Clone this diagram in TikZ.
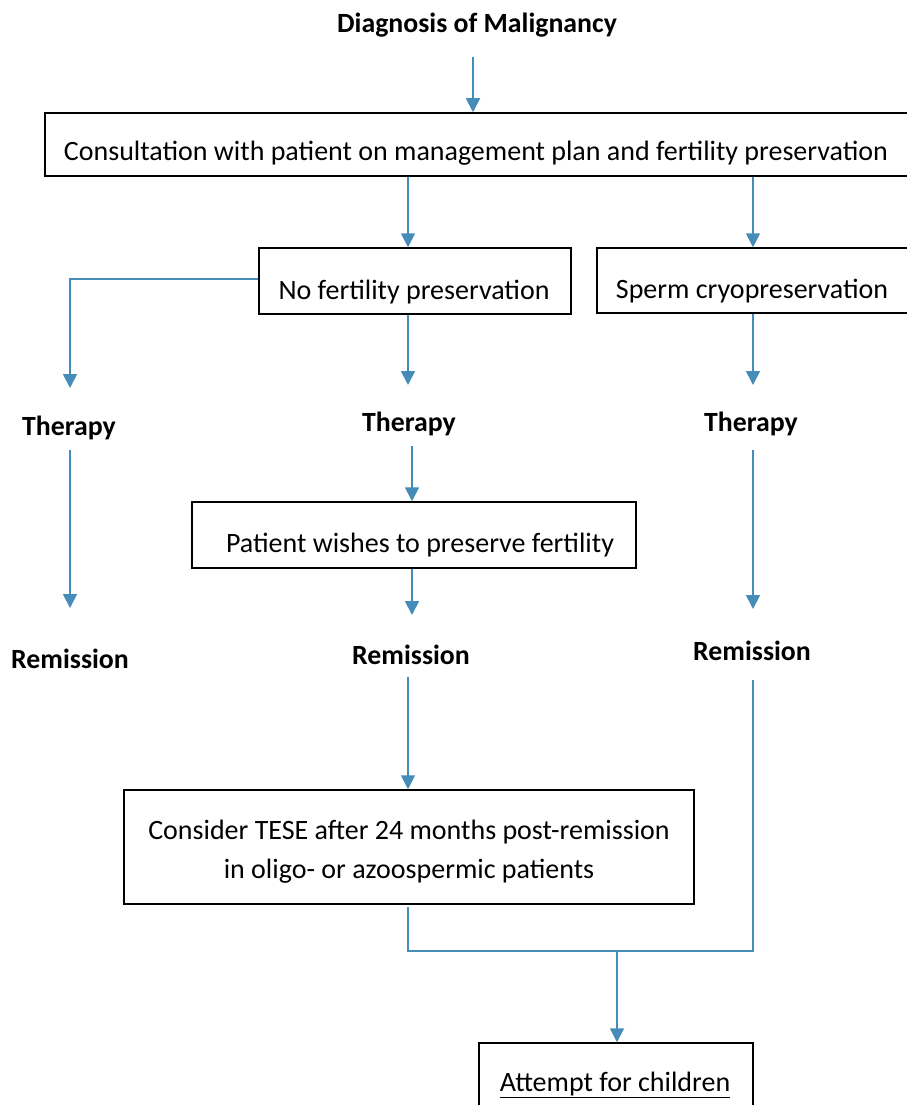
\documentclass[tikz,border=0pt]{standalone}
\usepackage{fontspec}
\setmainfont{Carlito}
\usetikzlibrary{arrows.meta}
\definecolor{flowblue}{RGB}{70,140,185}
\begin{document}
\begin{tikzpicture}[x=1pt,y=-1pt,
  boxframe/.style={draw=black,line width=1.5pt,inner sep=0pt},
  txt/.style={font=\fontsize{28}{34}\selectfont,anchor=base,inner sep=0pt},
  lbl/.style={font=\fontsize{27.8}{33}\selectfont\bfseries,anchor=base,inner sep=0pt},
  arr/.style={draw=flowblue,line width=1.8pt,-{Triangle[width=14pt,length=14pt]}},
  ln/.style={draw=flowblue,line width=1.8pt}]
\useasboundingbox (0,0) rectangle (906,1105);
% boxes
\node[boxframe,minimum width=875pt,minimum height=63pt] (consult) at (482.5,144.5) {};
\node[boxframe,minimum width=312pt,minimum height=66pt] (nofert) at (415,281) {};
\node[boxframe,minimum width=323pt,minimum height=65pt] (sperm) at (758.5,280.5) {};
\node[boxframe,minimum width=444pt,minimum height=66pt] (wish) at (414,535) {};
\node[boxframe,minimum width=570pt,minimum height=114pt] (tese) at (409,847) {};
\node[boxframe,minimum width=274pt,minimum height=90pt] (attempt) at (616,1088) {};
% texts
\node[lbl] (diag) at (477,33) {Diagnosis of Malignancy};
\node[txt] (consultT) at (476,160) {Consultation with patient on management plan and fertility preservation};
\node[txt] (nofertT) at (414,299) {No fertility preservation};
\node[txt] (spermT) at (752,298) {Sperm cryopreservation};
\node[lbl] (therL) at (69,435) {Therapy};
\node[lbl] (therM) at (409,431) {Therapy};
\node[lbl] (therR) at (751,431) {Therapy};
\node[txt] (wishT) at (420,552) {Patient wishes to preserve fertility};
\node[lbl] (remL) at (70,668) {Remission};
\node[lbl] (remM) at (411,664) {Remission};
\node[lbl] (remR) at (752,660) {Remission};
\node[txt] (teseA) at (409,839) {Consider TESE after 24 months post-remission};
\node[txt] (teseB) at (409,878) {in oligo- or azoospermic patients};
\node[txt] (attemptT) at (615,1091) {\underline{Attempt for children}};
% helper coordinates
\coordinate (c1) at (473,57);
\coordinate (c2) at (408,0);
\coordinate (c3) at (753,0);
\coordinate (c4) at (70,0);
\coordinate (c5) at (412,0);
\coordinate (c6) at (617,951);
% connectors
\draw[arr] (c1) -- (consult.north -| c1);
\draw[arr] (consult.south -| c2) -- (nofert.north -| c2);
\draw[arr] (consult.south -| c3) -- (sperm.north -| c3);
\draw[arr] (nofert.west |- 0,279) -| (70,388);
\draw[arr] (nofert.south -| c2) -- (408,385);
\draw[arr] (sperm.south -| c3) -- (753,385);
\draw[arr] (70,450) -- (70,608);
\draw[arr] (412,446) -- (wish.north -| c5);
\draw[arr] (753,450) -- (753,609);
\draw[arr] (wish.south -| c5) -- (412,615);
\draw[arr] (408,677) -- (tese.north -| c2);
\draw[ln] (408,907) |- (c6) -| (753,680);
\draw[arr] (c6) -- (attempt.north -| c6);
\end{tikzpicture}
\end{document}
